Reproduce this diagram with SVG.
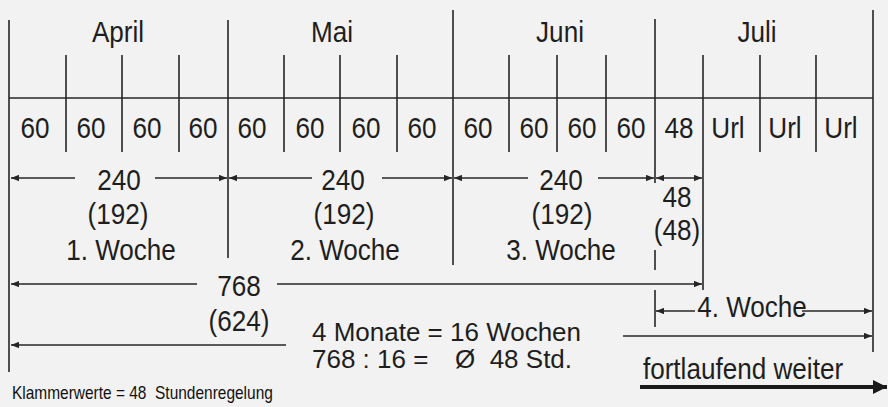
<svg xmlns="http://www.w3.org/2000/svg" width="888" height="407" viewBox="0 0 888 407">
<defs>
<style>
.t{font-family:"Liberation Sans",Arial,sans-serif;font-size:30px;fill:#1e1e1e;text-anchor:middle}
.s{text-anchor:start}
.c{font-family:"Liberation Sans",Arial,sans-serif;font-size:25px;fill:#1e1e1e;text-anchor:start}
.f{font-family:"Liberation Sans",Arial,sans-serif;font-size:18px;fill:#111;text-anchor:start}
.ln{stroke:#262626;stroke-width:1.6;fill:none}
.ar{stroke:#262626;stroke-width:1.6;fill:none;marker-end:url(#ah)}
.al{stroke:#262626;stroke-width:1.6;fill:none;marker-start:url(#ah)}
.ab{stroke:#262626;stroke-width:1.6;fill:none;marker-start:url(#ah);marker-end:url(#ah)}
</style>
<marker id="ah" viewBox="0 0 10 8" refX="10" refY="4" markerWidth="8" markerHeight="6.4" markerUnits="userSpaceOnUse" orient="auto-start-reverse">
<path d="M0,0 L10,4 L0,8 Z" fill="#262626"/>
</marker>
<marker id="big" viewBox="0 0 10 10" refX="10" refY="5" markerWidth="14" markerHeight="14" markerUnits="userSpaceOnUse" orient="auto">
<path d="M0,0 L10,5 L0,10 Z" fill="#1a1a1a"/>
</marker>
</defs>
<rect width="888" height="407" fill="#f2f2f2"/>

<g id="grid">
<path class="ln" d="M9,98 H873"/>
<path class="ln" d="M9,20 V372 M228,20 V258 M453,10 V265 M655,19 V183 M655,250 V270 M655,290 V327 M873,10 V352"/>
<path class="ln" d="M66,55 V152 M122,55 V152 M179,55 V152 M284,55 V152 M340,55 V152 M397,55 V152 M509,55 V152 M557,55 V152 M606,55 V152 M703,55 V290 M760,55 V152 M816,55 V152"/>
</g>

<g id="months">
<text class="t" transform="translate(118,42) scale(0.87,1)">April</text>
<text class="t" transform="translate(332,42) scale(0.87,1)">Mai</text>
<text class="t" transform="translate(560,42) scale(0.87,1)">Juni</text>
<text class="t" transform="translate(757,42) scale(0.87,1)">Juli</text>
</g>

<g id="hours">
<text class="t" transform="translate(35,138) scale(0.87,1)">60</text>
<text class="t" transform="translate(91,138) scale(0.87,1)">60</text>
<text class="t" transform="translate(147,138) scale(0.87,1)">60</text>
<text class="t" transform="translate(203,138) scale(0.87,1)">60</text>
<text class="t" transform="translate(252,138) scale(0.87,1)">60</text>
<text class="t" transform="translate(310,138) scale(0.87,1)">60</text>
<text class="t" transform="translate(366,138) scale(0.87,1)">60</text>
<text class="t" transform="translate(422,138) scale(0.87,1)">60</text>
<text class="t" transform="translate(478,138) scale(0.87,1)">60</text>
<text class="t" transform="translate(534,138) scale(0.87,1)">60</text>
<text class="t" transform="translate(582,138) scale(0.87,1)">60</text>
<text class="t" transform="translate(631,138) scale(0.87,1)">60</text>
<text class="t" transform="translate(679,138) scale(0.87,1)">48</text>
<text class="t" transform="translate(728,138) scale(0.87,1)">Url</text>
<text class="t" transform="translate(785,138) scale(0.87,1)">Url</text>
<text class="t" transform="translate(841,138) scale(0.87,1)">Url</text>
</g>

<g id="week1">
<text class="t" transform="translate(119,190) scale(0.87,1)">240</text>
<text class="t" transform="translate(118,224) scale(0.87,1)">(192)</text>
<text class="t" transform="translate(121,260) scale(0.87,1)">1. Woche</text>
</g>
<g id="week2">
<text class="t" transform="translate(343,190) scale(0.87,1)">240</text>
<text class="t" transform="translate(344,224) scale(0.87,1)">(192)</text>
<text class="t" transform="translate(345,260) scale(0.87,1)">2. Woche</text>
</g>
<g id="week3">
<text class="t" transform="translate(561,190) scale(0.87,1)">240</text>
<text class="t" transform="translate(562,224) scale(0.87,1)">(192)</text>
<text class="t" transform="translate(561,260) scale(0.87,1)">3. Woche</text>
</g>
<g id="week4part">
<text class="t" transform="translate(677,207) scale(0.87,1)">48</text>
<text class="t" transform="translate(677,240) scale(0.87,1)">(48)</text>
</g>
<g id="total">
<text class="t" transform="translate(239,296) scale(0.87,1)">768</text>
<text class="t" transform="translate(239,331) scale(0.87,1)">(624)</text>
</g>
<g id="calc">
<text class="c" transform="translate(312,341) scale(1.04,1)">4 Monate = 16 Wochen</text>
<text class="c" transform="translate(312,368) scale(1.04,1)">768 : 16 =</text>
<text class="c" xml:space="preserve" transform="translate(455,368) scale(1.04,1)">Ø  48 Std.</text>
</g>
<g id="week4">
<text class="t" transform="translate(752,317) scale(0.87,1)">4. Woche</text>
</g>
<g id="continue">
<text class="t" transform="translate(743,379) scale(0.87,1)">fortlaufend weiter</text>
</g>
<g id="note">
<text class="f" xml:space="preserve" transform="translate(12,399) scale(0.86,1)">Klammerwerte = 48  Stundenregelung</text>
</g>

<g id="connectors">
<path class="al" d="M11,178 H75"/>
<path class="ar" d="M155,178 H227"/>
<path class="al" d="M229,178 H312"/>
<path class="ar" d="M382,178 H452"/>
<path class="al" d="M454,178 H528"/>
<path class="ar" d="M598,178 H654"/>
<path class="ab" d="M656,178 H702"/>
<path class="al" d="M11,284 H197"/>
<path class="ar" d="M277,284 H702"/>
<path class="al" d="M11,345 H286"/>
<path class="ar" d="M623,336 H872"/>
<path class="al" d="M656,311 H695"/>
<path class="ar" d="M802,311 H872"/>
<path d="M640,387 H887" stroke="#1a1a1a" stroke-width="4" fill="none" marker-end="url(#big)"/>
</g>
</svg>
